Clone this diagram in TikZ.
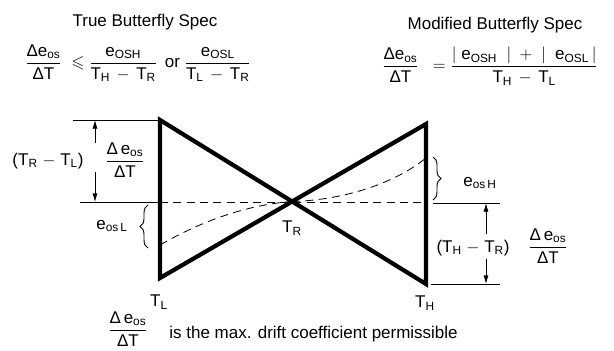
\documentclass[tikz,border=0pt]{standalone}
\usepackage{amsmath,amssymb}
\usepackage{fontspec}
\setmainfont{Liberation Sans}
\usepackage{tikz}
\usetikzlibrary{arrows.meta,positioning,decorations.pathreplacing,calc}
\newcommand{\eos}{\text{e}_{\text{os}}}
\newcommand{\driftfrac}{\ensuremath{\dfrac{\text{Δ}\,\eos}{\text{ΔT}}}}
\tikzset{
  specbox/.style={font=\fontsize{14.5}{17}\selectfont, inner sep=1pt},
  labelbox/.style={font=\fontsize{14.5}{17}\selectfont, inner sep=1pt},
  wingline/.style={line width=3.6pt, line join=miter},
  levelline/.style={draw=black, line width=0.7pt},
  driftcurve/.style={dash pattern=on 2.4mm off 1.6mm, line width=0.7pt},
  dimarrow/.style={-{Latex[length=2.6mm,width=1.5mm]}, line width=0.7pt},
  driftbrace/.style={decorate, decoration={brace, amplitude=2.4mm}, line width=0.8pt},
}

\begin{document}
\begin{tikzpicture}[x=0.03cm, y=-0.03cm]
  \useasboundingbox (0,0) rectangle (614,350);

  % Spec formulas (top row)
  \node[specbox] (truetitle) at (145,22) {True Butterfly Spec};
  \node[specbox] (truespec) at (138,63)
    {$\dfrac{\text{Δ}\eos}{\,\text{ΔT}\,} \ \leqslant \dfrac{\text{e}_{\text{OSH}}}{\text{T}_{\text{H}} \,-\, \text{T}_{\text{R}}}$\ \,or
     $\dfrac{\text{e}_{\text{OSL}}}{\text{T}_{\text{L}} \,-\, \text{T}_{\text{R}}}$};
  \node[specbox] (modtitle) at (495,25) {Modified Butterfly Spec};
  \node[specbox] (modspec) at (490,66)
    {$\dfrac{\text{Δ}\eos}{\,\text{ΔT}\,} \ \ = \dfrac{\lvert\ \text{e}_{\text{OSH}}\ \ \rvert \ + \ \lvert\ \ \text{e}_{\text{OSL}}\,\rvert}{\text{T}_{\text{H}} \,-\, \text{T}_{\text{L}}}$};

  % Butterfly corners
  \coordinate (LT) at (160,120);
  \coordinate (LB) at (160,278);
  \coordinate (RT) at (426,124);
  \coordinate (RB) at (426,284);
  \coordinate (cross) at (intersection of LT--RB and LB--RT);
  \coordinate (midL) at (160,202);
  \coordinate (midR) at (426,202);
  \coordinate (lowstart) at (160,245);
  \coordinate (highend) at (426,158);

  % Wings
  \draw[wingline] (LT) -- (RB) -- (RT) -- (LB) -- cycle;
  \draw[driftcurve] (midL) -- (midR);
  \draw[driftcurve] (lowstart) .. controls (200,222) and (245,205) .. (cross);
  \draw[driftcurve] (cross) .. controls (345,200) and (395,183) .. (highend);

  % Reference levels
  \coordinate (topref) at (73,120);
  \coordinate (midrefL) at (80,202);
  \coordinate (midrefR1) at (433,203);
  \coordinate (midrefR2) at (500,203);
  \coordinate (botrefR1) at (431,284);
  \coordinate (botrefR2) at (500,284);
  \draw[levelline] (topref) -- (LT);
  \draw[levelline] (midrefL) -- (midL);
  \draw[levelline] (midrefR1) -- (midrefR2);
  \draw[levelline] (botrefR1) -- (botrefR2);

  % Dimension arrows
  \coordinate (dimLtop) at (95,120);
  \coordinate (dimLgap1) at (95,143);
  \coordinate (dimLgap2) at (95,172);
  \coordinate (dimLbot) at (95,202);
  \draw[dimarrow] (dimLgap1) -- (dimLtop);
  \draw[dimarrow] (dimLgap2) -- (dimLbot);
  \coordinate (dimRtop) at (486,203);
  \coordinate (dimRgap1) at (486,234);
  \coordinate (dimRgap2) at (486,259);
  \coordinate (dimRbot) at (486,284);
  \draw[dimarrow] (dimRgap1) -- (dimRtop);
  \draw[dimarrow] (dimRgap2) -- (dimRbot);

  % Braces
  \coordinate (braceLlo) at (148,248);
  \coordinate (braceLhi) at (148,205);
  \coordinate (braceRhi) at (433,157);
  \coordinate (braceRlo) at (433,200);
  \draw[driftbrace] (braceLlo) -- (braceLhi);
  \draw[driftbrace] (braceRhi) -- (braceRlo);

  % Labels
  \node[labelbox] (spanL) at (48,161) {(T$_{\text{R}}$ $-$ T$_{\text{L}}$)};
  \node[labelbox] (fracL) at (125,160) {\driftfrac};
  \node[labelbox] (spanR) at (473,248) {(T$_{\text{H}}$ $-$ T$_{\text{R}}$)};
  \node[labelbox] (fracR) at (548,246) {\driftfrac};
  \node[labelbox] (eosL) at (112,226) {$\text{e}_{\text{os\,L}}$};
  \node[labelbox] (eosH) at (480,183) {$\text{e}_{\text{os\,H}}$};
  \node[labelbox] (tempL) at (159,302) {T$_{\text{L}}$};
  \node[labelbox] (tempR) at (292,228) {T$_{\text{R}}$};
  \node[labelbox] (tempH) at (425,303) {T$_{\text{H}}$};

  % Note (bottom)
  \node[labelbox, inner sep=0pt] (notefrac) at (128,329) {\driftfrac};
  \node[labelbox, anchor=west] (notetext) at (168,334) {is the max. drift coefficient permissible};
\end{tikzpicture}
\end{document}
